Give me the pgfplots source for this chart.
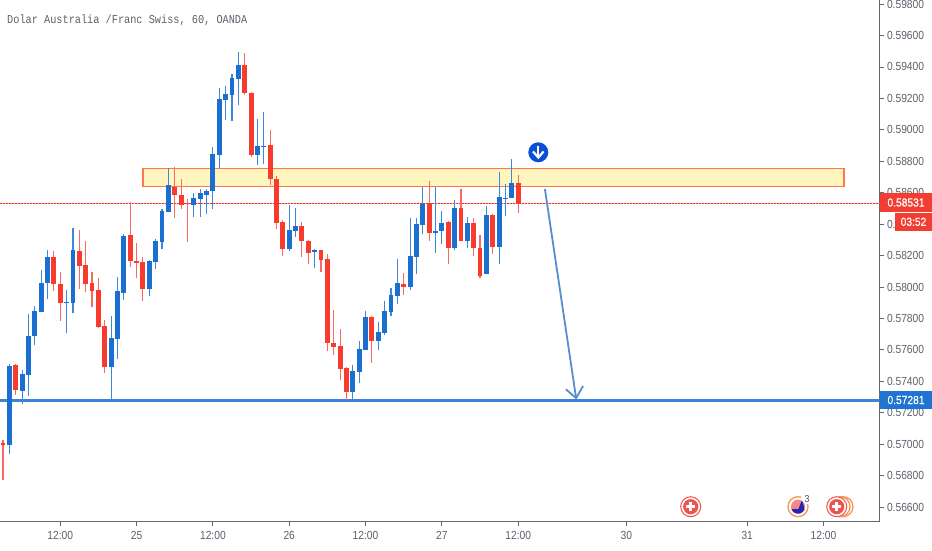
\documentclass[border=0pt]{standalone}
\usepackage{pgfplots}
\usepackage{pgfplotstable}
\usepackage{fontspec}
\pgfplotsset{compat=1.18}
\setmainfont{Liberation Sans}
\newfontfamily\tickf[FakeStretch=0.875]{Liberation Sans}
\newfontfamily\tagf[FakeStretch=0.875,FakeBold=0.35]{Liberation Sans}
\newfontfamily\titlef[FakeStretch=0.855]{Liberation Mono}
\definecolor{cblue}{RGB}{26,111,208}
\definecolor{cred}{RGB}{247,60,45}
\definecolor{wblue}{RGB}{62,136,220}
\definecolor{wred}{RGB}{248,105,95}
\definecolor{lineblue}{RGB}{61,132,216}
\definecolor{arrowblue}{RGB}{84,142,208}
\definecolor{axisc}{RGB}{100,104,115}
\definecolor{tickc}{RGB}{93,97,107}
\definecolor{zonefill}{RGB}{255,245,190}
\definecolor{zoneline}{RGB}{255,118,72}
\definecolor{tagred}{RGB}{242,61,51}
\definecolor{dotred}{RGB}{240,45,40}
\definecolor{tagblue}{RGB}{30,116,208}
\definecolor{evred}{RGB}{240,82,79}
\definecolor{evorange}{RGB}{250,150,85}
\definecolor{badge}{RGB}{11,78,216}

% i low body-bottom body-top high
\pgfplotstableread{
i l b t h
1 0.56939 0.56994 0.57499 0.57508
3 0.57253 0.57340 0.57444 0.57473
4 0.57306 0.57442 0.57688 0.57826
5 0.57631 0.57690 0.57845 0.57879
6 0.57840 0.57840 0.58027 0.58108
7 0.57925 0.58023 0.58189 0.58235
10 0.57709 0.57898 0.57904 0.57981
11 0.57832 0.57900 0.58235 0.58373
17 0.57283 0.57493 0.57675 0.57815
18 0.57540 0.57671 0.57974 0.58061
19 0.57917 0.57963 0.58326 0.58335
23 0.57942 0.57989 0.58165 0.58169
24 0.58112 0.58160 0.58294 0.58303
25 0.58243 0.58288 0.58483 0.58494
26 0.58479 0.58479 0.58647 0.58757
30 0.58447 0.58523 0.58566 0.58600
31 0.58447 0.58561 0.58596 0.58625
32 0.58464 0.58583 0.58612 0.58621
33 0.58498 0.58608 0.58848 0.58892
34 0.58755 0.58841 0.59194 0.59266
35 0.59062 0.59189 0.59226 0.59278
36 0.59058 0.59221 0.59329 0.59355
37 0.59156 0.59325 0.59414 0.59493
40 0.58776 0.58841 0.58899 0.59068
41 0.58784 0.58890 0.58897 0.59115
45 0.58231 0.58241 0.58364 0.58521
46 0.58316 0.58354 0.58390 0.58502
49 0.58120 0.58224 0.58235 0.58239
55 0.57281 0.57332 0.57465 0.57505
56 0.57391 0.57461 0.57603 0.57656
57 0.57599 0.57599 0.57811 0.57847
59 0.57597 0.57656 0.57711 0.57779
60 0.57696 0.57709 0.57845 0.57911
61 0.57815 0.57840 0.57947 0.57993
62 0.57891 0.57944 0.58025 0.58178
64 0.57981 0.58002 0.58195 0.58437
65 0.58080 0.58192 0.58398 0.58437
66 0.58335 0.58394 0.58528 0.58638
68 0.58218 0.58341 0.58358 0.58634
69 0.58275 0.58356 0.58405 0.58483
71 0.58235 0.58250 0.58502 0.58555
73 0.58250 0.58290 0.58405 0.58443
76 0.58082 0.58082 0.58458 0.58515
78 0.58146 0.58256 0.58574 0.58729
79 0.58453 0.58561 0.58568 0.58655
80 0.58564 0.58564 0.58659 0.58814
}\bluetable
\pgfplotstableread{
i l b t h
0 0.56772 0.56993 0.57009 0.57026
2 0.57313 0.57346 0.57503 0.57508
8 0.57976 0.58017 0.58189 0.58229
9 0.57785 0.57900 0.58019 0.58093
12 0.57989 0.58133 0.58229 0.58360
13 0.57970 0.58017 0.58138 0.58294
14 0.57872 0.57976 0.58027 0.58093
15 0.57737 0.57747 0.57981 0.58059
16 0.57454 0.57493 0.57753 0.57788
20 0.58129 0.58167 0.58332 0.58538
21 0.58055 0.58154 0.58165 0.58281
22 0.57912 0.57989 0.58157 0.58189
27 0.58440 0.58583 0.58638 0.58763
28 0.58496 0.58523 0.58585 0.58685
29 0.58288 0.58526 0.58534 0.58561
38 0.59221 0.59234 0.59414 0.59486
39 0.58829 0.58837 0.59232 0.59242
42 0.58647 0.58689 0.58905 0.58998
43 0.58371 0.58409 0.58685 0.58706
44 0.58197 0.58243 0.58411 0.58424
47 0.58192 0.58290 0.58390 0.58411
48 0.58146 0.58218 0.58292 0.58299
50 0.58093 0.58173 0.58233 0.58235
51 0.57592 0.57645 0.58178 0.58210
52 0.57565 0.57618 0.57643 0.57853
53 0.57408 0.57480 0.57622 0.57734
54 0.57281 0.57332 0.57484 0.57489
58 0.57518 0.57656 0.57811 0.57815
63 0.57949 0.58002 0.58019 0.58087
67 0.58294 0.58345 0.58534 0.58674
70 0.58146 0.58250 0.58411 0.58418
72 0.58290 0.58290 0.58502 0.58621
74 0.58197 0.58250 0.58405 0.58437
75 0.58059 0.58071 0.58248 0.58328
77 0.58210 0.58256 0.58458 0.58464
81 0.58472 0.58526 0.58659 0.58710
}\redtable

\newcommand{\evicon}[2]{% x, y measured from the bottom of the picture
  \begin{scope}[shift={(#1,#2)}]
  \draw[evred,line width=1pt,fill=white] (0,0) circle (10);
  \fill[evred] (0,0) circle (7.6);
  \fill[white] (-4.6,-1.3) rectangle (4.6,1.3);
  \fill[white] (-1.3,-4.6) rectangle (1.3,4.6);
  \end{scope}
}

\begin{document}
\begin{tikzpicture}[x=1pt,y=1pt]
\fill[white,use as bounding box] (0,0) rectangle (932,550);
\begin{axis}[
  at={(0pt,28.5pt)}, anchor=south west,
  scale only axis, width=879.5pt, height=521.5pt,
  xmin=-0.47, xmax=137.8, ymin=0.56508, ymax=0.59826,
  axis x line*=bottom, axis y line*=right,
  axis line style={-,axisc,line width=1.4pt},
  tick align=outside, major tick length=4pt,
  tick style={axisc,line width=0.9pt},
  xtick={9,21,33,45,57,69,81,98,117,129},
  xticklabels={12:00,25,12:00,26,12:00,27,12:00,30,31,12:00},
  x tick label style={font=\tickf\fontsize{11.7pt}{12pt}\selectfont,text=tickc,yshift=-2.5pt},
  ytick={0.566,0.568,0.570,0.572,0.574,0.576,0.578,0.580,0.582,0.584,0.586,0.588,0.590,0.592,0.594,0.596,0.598},
  scaled y ticks=false,
  y tick label style={font=\tickf\fontsize{11.7pt}{12pt}\selectfont,text=tickc,
    /pgf/number format/fixed,/pgf/number format/fixed zerofill,/pgf/number format/precision=5,
    /pgf/number format/assume math mode=true},
  error bars/error mark=none,
]
% supply zone
\addplot[draw=zoneline,line width=1.3pt,fill=zonefill,forget plot]
  coordinates {(22.0,0.58755)(132.2,0.58755)(132.2,0.58638)(22.0,0.58638)} -- cycle;
% horizontal levels
\addplot[draw=dotred!35,line width=1.4pt,forget plot] coordinates {(-0.47,0.58531)(137.8,0.58531)};
\addplot[draw=dotred,line width=1.4pt,dash pattern=on 1.7pt off 1.3pt,forget plot] coordinates {(-0.47,0.58531)(137.8,0.58531)};
\addplot[lineblue,line width=3pt,forget plot] coordinates {(-0.47,0.57281)(137.8,0.57281)};
% wicks
\addplot[draw=none,mark=none,forget plot,error bars/.cd,y dir=plus,y explicit,error bar style={wblue,line width=1.1pt}]
  table[x=i,y=l,y error plus expr=\thisrow{h}-\thisrow{l}] {\bluetable};
\addplot[draw=none,mark=none,forget plot,error bars/.cd,y dir=plus,y explicit,error bar style={wred,line width=1.1pt}]
  table[x=i,y=l,y error plus expr=\thisrow{h}-\thisrow{l}] {\redtable};
% bodies
\addplot[draw=none,mark=none,forget plot,error bars/.cd,y dir=plus,y explicit,error bar style={cblue,line width=4.9pt}]
  table[x=i,y=b,y error plus expr=\thisrow{t}-\thisrow{b}] {\bluetable};
\addplot[draw=none,mark=none,forget plot,error bars/.cd,y dir=plus,y explicit,error bar style={cred,line width=4.9pt}]
  table[x=i,y=b,y error plus expr=\thisrow{t}-\thisrow{b}] {\redtable};
% target arrow
\addplot[arrowblue,line width=1.8pt,forget plot] coordinates {(85.2,0.58623)(90.1,0.57293)};
\addplot[arrowblue,line width=1.8pt,forget plot] coordinates {(88.5,0.57349)(90.1,0.57293)(91.2,0.57370)};
\end{axis}
% title
\node[anchor=base west,inner sep=0pt,text=tickc] at (7,526) {\titlef\fontsize{12pt}{13pt}\selectfont Dolar Australia /Franc Swiss, 60, OANDA};
% price tags
\fill[tagred] (880,356.8) rectangle (932,338.3);
\node[anchor=center,inner sep=0pt,text=white] at (906,347.5) {\tagf\fontsize{11.7pt}{12pt}\selectfont 0.58531};
\fill[tagred] (895,337.3) rectangle (932,319);
\node[anchor=center,inner sep=0pt,text=white] at (913.5,328.2) {\tagf\fontsize{11.7pt}{12pt}\selectfont 03:52};
\fill[tagblue] (880,159.3) rectangle (932,140.7);
\node[anchor=center,inner sep=0pt,text=white] at (906,150) {\tagf\fontsize{11.7pt}{12pt}\selectfont 0.57281};
% down badge
\fill[badge] (538.3,397.7) circle (10);
\draw[white,line width=2.2pt] (538.3,404) -- (538.3,393);
\draw[white,line width=2.2pt] (533,398.5) -- (538.3,392.5) -- (543.6,398.5);
% events
\evicon{690.7}{43.3}
\draw[evorange,line width=1.3pt] (798,43.3) circle (10);
\fill[white] (805,50) circle (5);
\fill[evred!70] (798,43.3) circle (7);
\begin{scope}
\clip (798,43.3) circle (7);
\fill[blue!65!black!85] (790,34) rectangle (806,41.5);
\fill[blue!65!black!85] (798,40) -- (802,50) -- (805,40) -- cycle;
\end{scope}
\node[anchor=center,inner sep=0pt,text=black!70] at (807,51) {\tickf\fontsize{10pt}{11pt}\selectfont 3};
\draw[evorange,line width=1.3pt] (843,43.3) circle (10);
\draw[evorange,line width=1.3pt] (840,43.3) circle (10);
\evicon{836.7}{43.3}
\end{tikzpicture}
\end{document}
